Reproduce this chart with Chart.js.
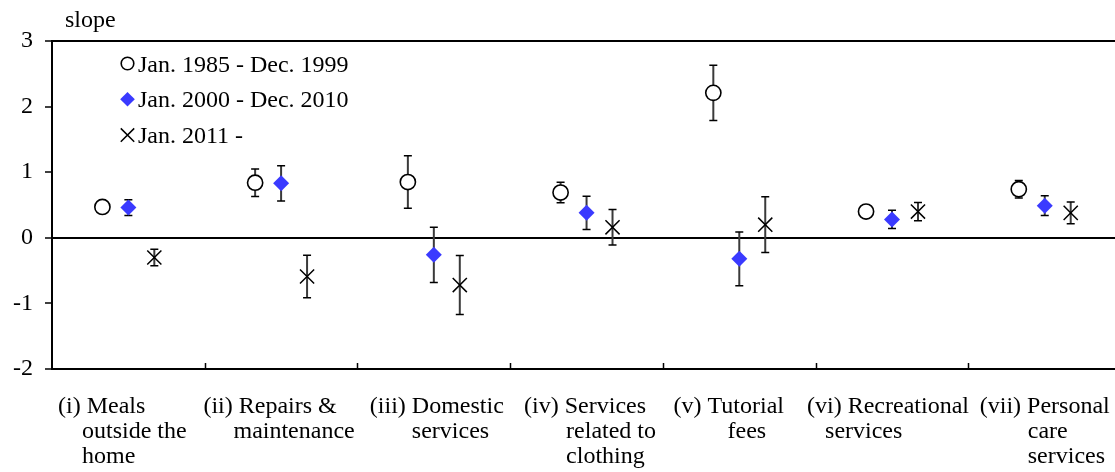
<!DOCTYPE html>
<html>
<head>
<meta charset="utf-8">
<script src="https://cdn.jsdelivr.net/npm/chart.js@4.4.1/dist/chart.umd.min.js"></script>
<style>
  html, body { margin: 0; padding: 0; background: #fff; overflow: hidden; }
  canvas { display: block; }
</style>
</head>
<body>
<canvas id="chart" width="1115" height="472"></canvas>
<script>
// Category labels (continuation lines are indented with leading spaces)
const categories = [
  ['(i) Meals', '    outside the', '    home'],
  ['(ii) Repairs &', '     maintenance'],
  ['(iii) Domestic', '       services'],
  ['(iv) Services', '       related to', '       clothing'],
  ['(v) Tutorial', '         fees'],
  ['(vi) Recreational', '   services'],
  ['(vii) Personal', '        care', '        services']
];

const seriesNames = ['Jan. 1985 - Dec. 1999', 'Jan. 2000 - Dec. 2010', 'Jan. 2011 -'];

// Estimated slopes and half-widths of their error bands
const slope1985 = [0.47, 0.84, 0.85, 0.69, 2.21, 0.40, 0.74];
const err1985   = [0.08, 0.21, 0.40, 0.155, 0.42, 0.07, 0.135];
const slope2000 = [0.46, 0.83, -0.26, 0.38, -0.32, 0.28, 0.49];
const err2000   = [0.12, 0.27, 0.42, 0.255, 0.41, 0.14, 0.15];
const slope2011 = [-0.30, -0.59, -0.72, 0.16, 0.20, 0.40, 0.38];
const err2011   = [0.125, 0.325, 0.45, 0.27, 0.425, 0.14, 0.165];

const yTicks = [-2, -1, 0, 1, 2, 3];
const yTitle = 'slope';

const FONT = '"Liberation Serif", "Times New Roman", Times, serif';
const FONT_SIZE = 24;
const DODGE = 0.17;          // horizontal spread of the three periods inside a category
const VISIBLE_SPAN = 6.96;   // category units that fit across the plot
const LABEL_NUDGE = [-6, -2, 3, 3.5, -10.5, -4, 0]; // fine horizontal shift of each label block (px)

const seriesSpec = [
  { values: slope1985, errors: err1985, shift: -DODGE,
    point: { pointStyle: 'circle', radius: 7.6, backgroundColor: '#ffffff', borderColor: '#000000', borderWidth: 1.6 },
    legendRadius: 6.3 },
  { values: slope2000, errors: err2000, shift: 0,
    point: { pointStyle: 'rectRot', radius: 8, backgroundColor: '#3a3aff', borderColor: '#3a3aff', borderWidth: 0 },
    legendRadius: 7.3 },
  { values: slope2011, errors: err2011, shift: DODGE,
    point: { pointStyle: 'crossRot', radius: 10, backgroundColor: '#000000', borderColor: '#000000', borderWidth: 1.5 },
    legendRadius: 9.5 }
];

const datasets = seriesSpec.map((s, k) => ({
  label: seriesNames[k],
  data: s.values.map((v, i) => ({ x: i + 0.5 + s.shift, y: v, err: s.errors[i] })),
  showLine: false,
  pointStyle: s.point.pointStyle,
  pointRadius: s.point.radius,
  pointBackgroundColor: s.point.backgroundColor,
  pointBorderColor: s.point.borderColor,
  pointBorderWidth: s.point.borderWidth,
  pointHoverRadius: s.point.radius
}));

// Vertical error bars, drawn underneath the markers
const errorBars = {
  id: 'errorBars',
  beforeDatasetsDraw(chart) {
    const { ctx } = chart;
    const ys = chart.scales.y;
    ctx.save();
    chart.data.datasets.forEach((ds, k) => {
      const meta = chart.getDatasetMeta(k);
      meta.data.forEach((el, i) => {
        const d = ds.data[i];
        const top = ys.getPixelForValue(d.y + d.err);
        const bot = ys.getPixelForValue(d.y - d.err);
        ctx.strokeStyle = '#3a3a3a';
        ctx.lineWidth = 2;
        ctx.beginPath();
        ctx.moveTo(el.x, top);
        ctx.lineTo(el.x, bot);
        ctx.stroke();
        ctx.strokeStyle = '#000';
        ctx.lineWidth = 1.5;
        ctx.beginPath();
        ctx.moveTo(el.x - 4, top); ctx.lineTo(el.x + 4, top);
        ctx.moveTo(el.x - 4, bot); ctx.lineTo(el.x + 4, bot);
        ctx.stroke();
      });
    });
    ctx.restore();
  }
};

// Legend inside the plot, axis title, category separators and wrapped category labels
const decorations = {
  id: 'decorations',
  afterDraw(chart) {
    const { ctx, chartArea } = chart;
    const xs = chart.scales.x;
    ctx.save();
    ctx.font = `${FONT_SIZE}px ${FONT}`;
    ctx.fillStyle = '#000';
    ctx.textAlign = 'left';
    ctx.textBaseline = 'alphabetic';

    // axis title
    ctx.fillText(yTitle, 65, 27);

    // legend
    chart.data.datasets.forEach((ds, k) => {
      const spec = seriesSpec[k];
      const y = 63.5 + k * 35.8;
      ctx.save();
      ctx.fillStyle = spec.point.backgroundColor;
      ctx.strokeStyle = spec.point.borderColor;
      ctx.lineWidth = spec.point.borderWidth || 1.4;
      Chart.helpers.drawPoint(ctx, {
        pointStyle: spec.point.pointStyle,
        radius: spec.legendRadius,
        rotation: 0,
        borderWidth: spec.point.borderWidth || (spec.point.pointStyle === 'circle' ? 1.4 : 0)
      }, 127.5, y);
      ctx.restore();
      ctx.fillText(ds.label, 138, y + 8);
    });

    // inner tick marks between categories
    ctx.strokeStyle = '#000';
    ctx.lineWidth = 1.5;
    ctx.beginPath();
    for (let k = 1; k < categories.length; k++) {
      const x = Math.round(xs.getPixelForValue(k)) + 0.5;
      ctx.moveTo(x, chartArea.bottom);
      ctx.lineTo(x, chartArea.bottom - 6);
    }
    ctx.stroke();

    // category labels: left-aligned blocks centred under each category,
    // kept inside the right edge of the canvas
    categories.forEach((lines, i) => {
      const cx = xs.getPixelForValue(i + 0.5);
      const w = Math.max(...lines.map(l => ctx.measureText(l).width));
      let left = cx - w / 2 + LABEL_NUDGE[i];
      left = Math.min(left, chart.width - 2 - w);
      lines.forEach((l, j) => ctx.fillText(l, left, 413 + j * 25));
    });
    ctx.restore();
  }
};

new Chart(document.getElementById('chart'), {
  type: 'scatter',
  data: { datasets },
  plugins: [errorBars, decorations],
  options: {
    responsive: false,
    animation: false,
    devicePixelRatio: 1,
    layout: { autoPadding: false, padding: { top: 41, right: 0, bottom: 0, left: 0 } },
    plugins: { legend: { display: false }, tooltip: { enabled: false } },
    scales: {
      x: {
        type: 'linear',
        min: 0,
        max: VISIBLE_SPAN,
        ticks: { display: false },
        grid: { display: false },
        border: { display: true, color: '#000', width: 2 },
        afterFit(scale) { scale.height = 103; }
      },
      y: {
        type: 'linear',
        min: yTicks[0],
        max: yTicks[yTicks.length - 1],
        afterBuildTicks(scale) { scale.ticks = yTicks.map(v => ({ value: v })); },
        afterFit(scale) { scale.width = 52; },
        ticks: {
          color: '#000',
          padding: 12,
          font: { family: FONT, size: FONT_SIZE }
        },
        grid: {
          color: c => (c.tick && (c.tick.value === 0 || c.tick.value === 3)) ? '#000' : 'rgba(0,0,0,0)',
          lineWidth: 2,
          tickColor: '#000',
          tickWidth: 1.5,
          tickLength: 7,
          drawTicks: true
        },
        border: { display: true, color: '#000', width: 2 }
      }
    }
  }
});
</script>
</body>
</html>
